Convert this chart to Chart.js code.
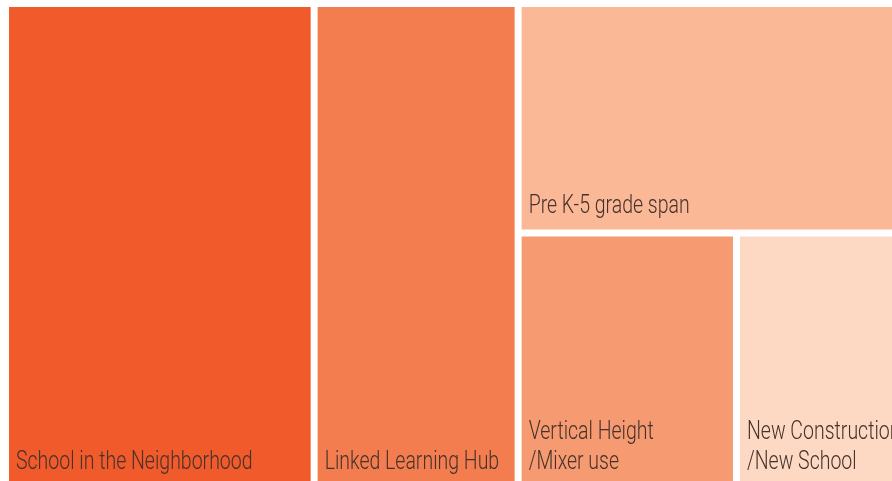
<!DOCTYPE html>
<html>
<head>
<meta charset="utf-8">
<script src="https://cdn.jsdelivr.net/npm/chart.js@4.4.1/dist/chart.umd.min.js"></script>
<style>
  html, body { margin: 0; padding: 0; background: #ffffff; overflow: hidden; }
  #wrap { position: relative; width: 896px; height: 486px; }
</style>
</head>
<body>
<div id="wrap"><canvas id="c"></canvas></div>
<script>
// ---- data ----
const categories = [
  'School in the Neighborhood',
  'Linked Learning Hub',
  'Pre K-5 grade span',
  'Vertical Height\n/Mixer use',
  'New Construction\n/New School'
];
const values = [34.4, 23.0, 20.1, 13.0, 9.5];
// tree structure: which column and which row inside the column each tile belongs to
const columnOf = [0, 1, 2, 2, 2];
const rowOf = [0, 0, 0, 1, 1];
const colors = ['#F15A2A', '#F37D4F', '#FAB896', '#F69A71', '#FDD9C4'];

// ---- styling ----
const GAP = 7;
const FONT_SIZE = 25;
const TEXT_SX = 0.78;
const LINE_H = 30;
const PAD_X = 7;
const PAD_BOTTOM = 17;

function layoutTiles() {
  const total = values.reduce((a, b) => a + b, 0);
  const cols = [...new Set(columnOf)];
  const tiles = [];
  let x0 = 0;
  cols.forEach(c => {
    const idxC = values.map((v, i) => i).filter(i => columnOf[i] === c);
    const colSum = idxC.reduce((a, i) => a + values[i], 0);
    const x1 = x0 + colSum / total;
    const rows = [...new Set(idxC.map(i => rowOf[i]))];
    let y0 = 0;
    rows.forEach(r => {
      const idxR = idxC.filter(i => rowOf[i] === r);
      const rowSum = idxR.reduce((a, i) => a + values[i], 0);
      const y1 = y0 + rowSum / colSum;
      let cx = x0;
      idxR.forEach(i => {
        const cx1 = cx + (values[i] / rowSum) * (x1 - x0);
        tiles.push({ i, x0: cx, x1: cx1, y0, y1 });
        cx = cx1;
      });
      y0 = y1;
    });
    x0 = x1;
  });
  return tiles;
}

const treemapPlugin = {
  id: 'treemapTiles',
  afterDatasetsDraw(chart) {
    const { ctx, scales: { x, y } } = chart;
    const tiles = layoutTiles();
    const eps = 1e-9;
    tiles.forEach(t => {
      let px0 = x.getPixelForValue(t.x0);
      let px1 = x.getPixelForValue(t.x1);
      let py0 = y.getPixelForValue(t.y0);
      let py1 = y.getPixelForValue(t.y1);
      if (t.x0 > eps) px0 += GAP / 2;
      if (t.x1 < 1 - eps) px1 -= GAP / 2;
      if (t.y0 > eps) py0 += GAP / 2;
      if (t.y1 < 1 - eps) py1 -= GAP / 2;
      ctx.save();
      ctx.fillStyle = colors[t.i];
      ctx.fillRect(px0, py0, px1 - px0, py1 - py0);
      // label
      const lines = categories[t.i].split('\n');
      ctx.fillStyle = '#45322c';
      ctx.font = '300 ' + FONT_SIZE + 'px Roboto, "Liberation Sans", sans-serif';
      ctx.textBaseline = 'alphabetic';
      ctx.textAlign = 'left';
      const baseBottom = py1 - PAD_BOTTOM;
      lines.forEach((ln, k) => {
        const by = baseBottom - (lines.length - 1 - k) * LINE_H;
        ctx.save();
        ctx.translate(px0 + PAD_X, by);
        ctx.scale(TEXT_SX, 1);
        ctx.fillText(ln, 0, 0);
        ctx.restore();
      });
      ctx.restore();
    });
  }
};

new Chart(document.getElementById('c'), {
  type: 'scatter',
  data: { datasets: [{ data: [], pointRadius: 0 }] },
  options: {
    responsive: true,
    maintainAspectRatio: false,
    animation: false,
    events: [],
    layout: { padding: { left: 9, top: 7, right: 0, bottom: 0 } },
    plugins: { legend: { display: false }, tooltip: { enabled: false } },
    scales: {
      x: { type: 'linear', min: 0, max: 1, display: false },
      y: { type: 'linear', min: 0, max: 1, reverse: true, display: false }
    }
  },
  plugins: [treemapPlugin]
});
</script>
</body>
</html>
